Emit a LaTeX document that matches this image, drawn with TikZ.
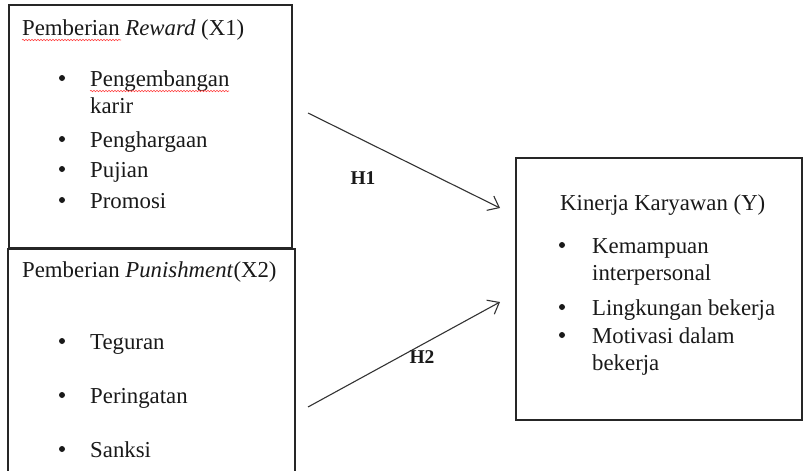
\documentclass[tikz,border=0pt]{standalone}
\usepackage{fontspec}
\setmainfont{Liberation Serif}
\usetikzlibrary{arrows.meta,decorations.pathmorphing}
\begin{document}
\begin{tikzpicture}[x=1pt,y=-1pt,
  box/.style={draw=black!85, line width=1.2pt, inner sep=0pt, outer sep=0pt},
  txt/.style={anchor=base west, inner sep=0pt, font=\fontsize{22.8}{27}\selectfont, text=black!90},
  bul/.style={circle, fill=black!90, inner sep=0pt, minimum size=6pt},
  conn/.style={draw=black!80, line width=1.1pt, -{Straight Barb[length=10pt,width=16pt,line width=1.1pt]}},
  lab/.style={inner sep=0pt, font=\fontsize{19.5}{22}\selectfont\bfseries, text=black!90},
  squig/.style={draw=red!75, line width=0.6pt, decorate, decoration={snake, amplitude=0.7pt, segment length=3pt}}]
\useasboundingbox (0,0) rectangle (806,471);
% boxes
\node[box, minimum width=283pt, minimum height=243pt, anchor=north west] (x1) at (9,5) {};
\node[box, minimum width=287pt, minimum height=250pt, anchor=north west] (x2) at (8,249) {};
\node[box, minimum width=286pt, minimum height=262pt, anchor=north west] (y) at (516,158) {};
% box 1 text
\node[txt] (t1) at (22,35) {Pemberian \textit{Reward} (X1)};
\node[bul] (b11) at (62,78) {};
\node[txt] (t11) at (90,86) {Pengembangan};
\node[txt] (t12) at (90,113) {karir};
\node[bul] (b12) at (62,139) {};
\node[txt] (t13) at (90,147) {Penghargaan};
\node[bul] (b13) at (62,169) {};
\node[txt] (t14) at (90,177) {Pujian};
\node[bul] (b14) at (62,200) {};
\node[txt] (t15) at (90,208) {Promosi};
\draw[squig] (22,40) -- (121,40);
\draw[squig] (90,91) -- (229,91);
% box 2 text
\node[txt] (t2) at (22,277) {Pemberian \textit{Punishment}(X2)};
\node[bul] (b21) at (62,341) {};
\node[txt] (t21) at (90,349) {Teguran};
\node[bul] (b22) at (62,395) {};
\node[txt] (t22) at (90,403) {Peringatan};
\node[bul] (b23) at (62,449) {};
\node[txt] (t23) at (90,457) {Sanksi};
% box 3 text
\node[txt] (t3) at (560,210) {Kinerja Karyawan (Y)};
\node[bul] (b31) at (562,245) {};
\node[txt] (t31) at (592,253) {Kemampuan};
\node[txt] (t32) at (592,280) {interpersonal};
\node[bul] (b32) at (562,307) {};
\node[txt] (t33) at (592,315) {Lingkungan bekerja};
\node[bul] (b33) at (562,335) {};
\node[txt] (t34) at (592,343) {Motivasi dalam};
\node[txt] (t35) at (592,370) {bekerja};
% connectors
\coordinate (h1s) at (308,113);
\coordinate (h1e) at (500,208);
\coordinate (h2s) at (308,407);
\coordinate (h2e) at (500,302);
\draw[conn] (h1s) -- (h1e);
\draw[conn] (h2s) -- (h2e);
\node[lab] (l1) at (363,178) {H1};
\node[lab] (l2) at (422,357) {H2};
\end{tikzpicture}
\end{document}
